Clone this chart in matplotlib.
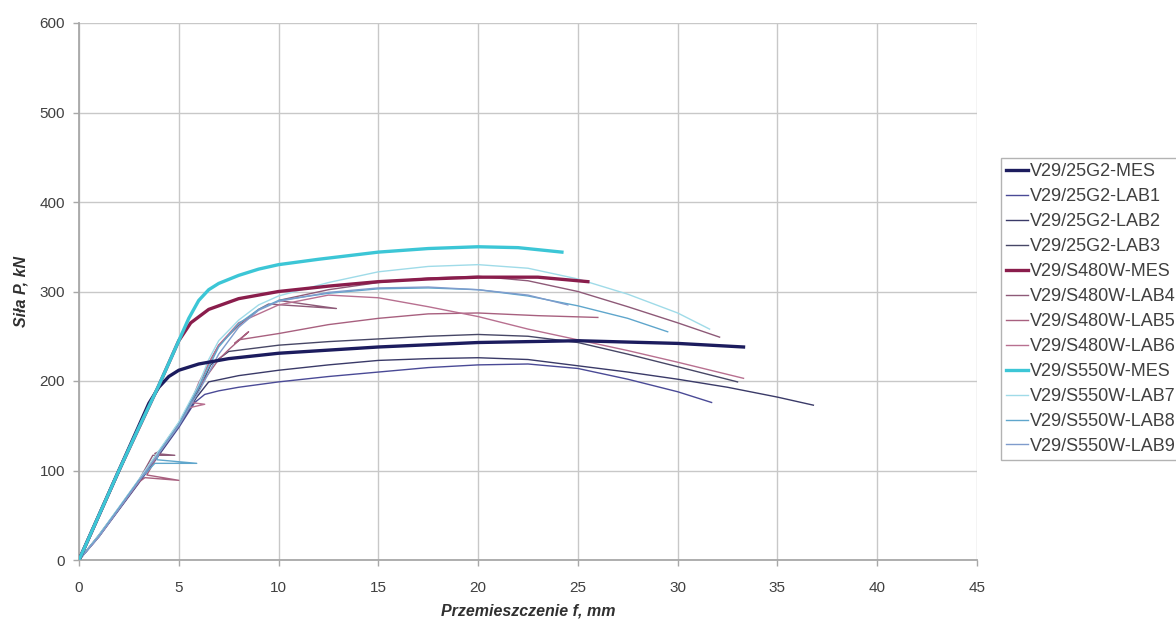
import matplotlib
matplotlib.use("Agg")
import matplotlib.pyplot as plt

plt.rcParams['font.family'] = ['Liberation Sans', 'DejaVu Sans']

# ---- data (displacement f [mm], force P [kN]) ----
labels = ["V29/25G2-MES", "V29/25G2-LAB1", "V29/25G2-LAB2", "V29/25G2-LAB3",
          "V29/S480W-MES", "V29/S480W-LAB4", "V29/S480W-LAB5", "V29/S480W-LAB6",
          "V29/S550W-MES", "V29/S550W-LAB7", "V29/S550W-LAB8", "V29/S550W-LAB9"]

g2_mes_x = [0, 2, 3.5, 4, 4.5, 5, 6, 7.5, 10, 15, 20, 25, 30, 33.3]
g2_mes_y = [0, 100, 175, 193, 205, 212, 219, 225, 231, 238, 243, 245, 242, 238]

g2_lab1_x = [0, 1, 2, 3, 4, 5, 5.8, 6.3, 7, 8, 10, 12.5, 15, 17.5, 20, 22.5, 25, 27.5, 30, 31.7]
g2_lab1_y = [0, 26, 56, 86, 117, 148, 176, 185, 189, 193, 199, 205, 210, 215, 218, 219, 214, 202, 188, 176]

g2_lab2_x = [0, 1, 2, 3, 4, 5, 5.9, 6.5, 8, 10, 12.5, 15, 17.5, 20, 22.5, 25, 27.5, 30, 32.5, 35, 36.8]
g2_lab2_y = [0, 27, 57, 87, 118, 150, 182, 199, 206, 212, 218, 223, 225, 226, 224, 217, 210, 202, 193, 182, 173]

g2_lab3_x = [0, 1, 2, 3, 4, 5, 6, 6.6, 7.5, 10, 12.5, 15, 17.5, 20, 22.5, 25, 27.5, 30, 33]
g2_lab3_y = [0, 28, 58, 89, 121, 153, 190, 218, 233, 240, 244, 247, 250, 252, 250, 243, 230, 216, 199]

s480_mes_x = [0, 2, 4, 4.6, 5, 5.6, 6.5, 8, 10, 12.5, 15, 17.5, 20, 23, 25.5]
s480_mes_y = [0, 100, 195, 225, 245, 265, 280, 292, 300, 306, 311, 314, 316, 316, 311]

s480_lab4_x = [0, 1, 2, 3, 3.7, 4.8, 3.8, 4, 5, 6, 6.5, 7, 8, 9, 9.5, 12.9, 10, 12.5, 15, 17.5, 20, 22.5, 25, 27.5, 30, 32.1]
s480_lab4_y = [0, 27, 58, 89, 117, 117, 119, 121, 152, 195, 220, 240, 262, 280, 286, 281, 290, 302, 310, 315, 317, 312, 300, 283, 265, 249]

s480_lab5_x = [0, 1, 2, 3, 3.3, 5.0, 3.4, 4, 5, 6, 7, 7.5, 8.5, 7.8, 8, 10, 12.5, 15, 17.5, 20, 23, 26]
s480_lab5_y = [0, 26, 57, 87, 92, 89, 95, 119, 151, 193, 224, 235, 255, 242, 246, 253, 263, 270, 275, 276, 273, 271]

s480_lab6_x = [0, 1, 2, 3, 4, 5, 5.5, 6.3, 5.6, 6, 7, 8, 10, 12.5, 15, 17.5, 20, 22.5, 25, 27.5, 30, 33.3]
s480_lab6_y = [0, 27, 58, 89, 120, 151, 170, 174, 176, 198, 240, 265, 285, 296, 293, 283, 272, 258, 246, 234, 221, 203]

s550_mes_x = [0, 1, 2, 3, 4, 5, 5.5, 6, 6.5, 7, 8, 9, 10, 12, 15, 17.5, 20, 22, 24.2]
s550_mes_y = [0, 50, 100, 148, 195, 245, 270, 290, 302, 309, 318, 325, 330, 336, 344, 348, 350, 349, 344]

s550_lab7_x = [0, 1, 2, 3, 4, 5, 6, 6.5, 7, 8, 9, 10, 12.5, 15, 17.5, 20, 22.5, 25, 27.5, 30, 31.6]
s550_lab7_y = [0, 28, 59, 90, 122, 154, 196, 224, 245, 268, 285, 295, 310, 322, 328, 330, 326, 314, 297, 276, 258]

s550_lab8_x = [0, 1, 2, 3, 3.8, 5.9, 3.9, 4, 5, 6, 7, 8, 9, 10, 12.5, 15, 17.5, 20, 22.5, 25, 27.5, 29.5]
s550_lab8_y = [0, 27, 58, 89, 108, 108, 112, 120, 151, 193, 238, 264, 280, 290, 298, 303, 304, 302, 295, 284, 270, 255]

s550_lab9_x = [0, 1, 2, 3, 4, 5, 6, 7, 8, 9, 10, 12.5, 15, 17.5, 20, 22.5, 24.5]
s550_lab9_y = [0, 26, 57, 88, 119, 150, 188, 230, 260, 279, 289, 299, 304, 305, 302, 296, 285]

series_x = [g2_mes_x, g2_lab1_x, g2_lab2_x, g2_lab3_x,
            s480_mes_x, s480_lab4_x, s480_lab5_x, s480_lab6_x,
            s550_mes_x, s550_lab7_x, s550_lab8_x, s550_lab9_x]
series_y = [g2_mes_y, g2_lab1_y, g2_lab2_y, g2_lab3_y,
            s480_mes_y, s480_lab4_y, s480_lab5_y, s480_lab6_y,
            s550_mes_y, s550_lab7_y, s550_lab8_y, s550_lab9_y]

colors = ["#1c1c5e", "#4a4a96", "#3a3a68", "#474766",
          "#8a1d4c", "#8e5a78", "#a8607f", "#b87090",
          "#3cc6d6", "#9fdbe8", "#5fa6cc", "#7f9ccc"]
widths = [2.4, 1.0, 1.0, 1.0, 2.4, 1.0, 1.0, 1.0, 2.4, 1.0, 1.0, 1.0]

xticks = [0, 5, 10, 15, 20, 25, 30, 35, 40, 45]
yticks = [0, 100, 200, 300, 400, 500, 600]

fig = plt.figure(figsize=(11.76, 6.23), dpi=100)
ax = fig.add_axes([79/1176, 1-560/623, (977-79)/1176, (560-23)/623])

handles = []
for xs, ys, c, w, lab in zip(series_x, series_y, colors, widths, labels):
    h, = ax.plot(xs, ys, color=c, lw=w, label=lab, solid_joinstyle='round',
                 zorder=3 if w > 2 else 2)
    handles.append(h)

ax.set_xlim(0, 45)
ax.set_ylim(0, 600)
ax.set_xticks(xticks)
ax.set_yticks(yticks)
ax.grid(True, color="#c8c8c8", lw=1.0)
ax.set_axisbelow(True)
for s in ["top", "right"]:
    ax.spines[s].set_visible(False)
for s in ["left", "bottom"]:
    ax.spines[s].set_color("#a8a8a8")
    ax.spines[s].set_linewidth(1.3)
ax.tick_params(axis='both', length=4, width=1, color="#a8a8a8", labelsize=11,
               labelcolor="#404040", direction='out')
ax.tick_params(axis='x', pad=11)
ax.tick_params(axis='y', pad=6)

ax.set_xlabel("Przemieszczenie f, mm", fontsize=11.5, fontweight='bold', fontstyle='italic',
              color="#303030", labelpad=6)
ax.set_ylabel("Siła P, kN", fontsize=11.5, fontweight='bold', fontstyle='italic',
              color="#303030", labelpad=8)

leg = fig.legend(handles=handles, loc='upper left', bbox_to_anchor=(1001/1176, 1-158/623),
                 fontsize=13, frameon=True, fancybox=False, edgecolor="#a0a0a0",
                 handlelength=1.2, handletextpad=0.12, labelspacing=0.44, borderpad=0.3,
                 borderaxespad=0)
for t in leg.get_texts():
    t.set_color("#404040")
leg.get_frame().set_linewidth(1.0)

fig.savefig("out.png", dpi=100)
